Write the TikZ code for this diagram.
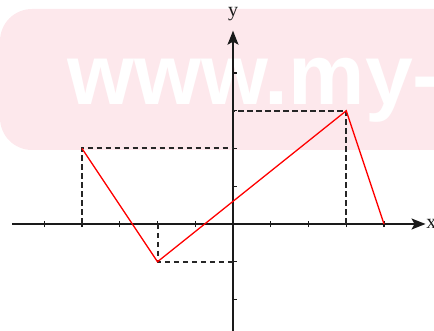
\documentclass[tikz,border=0pt]{standalone}
\usepackage{fontspec}
\setmainfont{Liberation Serif}
\newfontfamily\wmfont{Liberation Sans}
\usetikzlibrary{arrows.meta}
\definecolor{wmpink}{HTML}{FDE8EC}
\definecolor{axisgray}{HTML}{1A1A1A}
\tikzset{
  axisline/.style={draw=axisgray, line width=1.4pt, -{Stealth[length=14pt,width=11pt,inset=3pt]}},
  tickline/.style={draw=axisgray, line width=1.2pt},
  guide/.style={draw=black!85, line width=2pt, dash pattern=on 5.5pt off 3.5pt},
  graphline/.style={draw=red, line width=1.3pt, line join=miter},
  axislabel/.style={font=\fontsize{20}{20}\selectfont, inner sep=0pt, text=axisgray}
}
\begin{document}
\begin{tikzpicture}[x=1pt,y=1pt]
\useasboundingbox (0,0) rectangle (434,331);
% watermark
\begin{scope}
\clip (0,0) rectangle (434,331);
\fill[wmpink, rounded corners=32pt] (0,181) rectangle (520,322);
\node[anchor=base west, inner sep=0pt, text=white, font=\wmfont\bfseries\fontsize{86}{86}\selectfont] (wm) at (67,226) {www.my-};
\end{scope}
\begin{scope}[shift={(233,107)}, x=37.75pt, y=37.75pt]
\coordinate (O) at (0,0);
\coordinate (xs) at (-5.85,0);
\coordinate (xe) at (5.1,0);
\coordinate (ys) at (0,-2.9);
\coordinate (ye) at (0,5.12);
\draw[axisline] (xs) -- (xe);
\draw[axisline] (ys) -- (ye);
\node[axislabel, anchor=west] (xl) at (5.12,0) {x};
\node[axislabel] (yl) at (0,5.55) {y};
\foreach \i in {-5,-4,-3,-2,-1,1,2,3,4}
  \draw[tickline] (\i,-0.08) -- (\i,0.08);
\foreach \j in {-2,-1,1,2,3,4}
  \draw[tickline] (0,\j) -- (0.1,\j);
\coordinate (A) at (-4,2);
\coordinate (B) at (-2,-1);
\coordinate (C) at (3,3);
\coordinate (D) at (4,0);
\coordinate (Ax) at (-4,0);
\coordinate (Ay) at (0,2);
\coordinate (Bx) at (-2,0);
\coordinate (By) at (0,-1);
\coordinate (Cx) at (3,0);
\coordinate (Cy) at (0,3);
\draw[guide] (Ax) -- (A) -- (Ay);
\draw[guide] (Bx) -- (B) -- (By);
\draw[guide] (Cx) -- (C) -- (Cy);
\draw[graphline] (A) -- (B) -- (C) -- (D);
\end{scope}
\end{tikzpicture}
\end{document}
